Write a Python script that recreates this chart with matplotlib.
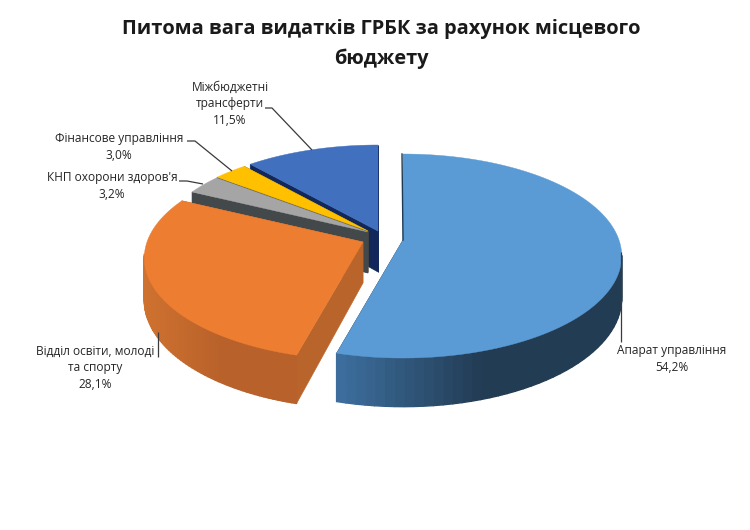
import numpy as np
import matplotlib
matplotlib.use("Agg")
import matplotlib.pyplot as plt
from matplotlib.colors import to_rgb

title_lines = ["Питома вага видатків ГРБК за рахунок місцевого", "бюджету"]
categories = ["Апарат управління", "Відділ освіти, молоді\nта спорту", "КНП охорони здоров'я",
              "Фінансове управління", "Міжбюджетні\nтрансферти"]
shares = [54.2, 28.1, 3.2, 3.0, 11.5]

top_colors = ["#5b9bd5", "#ed7d31", "#a5a5a5", "#ffc000", "#4170bf"]
wall_left = ["#3d6f9f", "#cf7230", "#55585a", "#7a5f10", "#1d3a78"]
wall_right = ["#223c54", "#b8612a", "#43484a", "#6b5a1a", "#12285a"]
face_colors = ["#1f3a55", "#b9642a", "#43484a", "#6b5a1a", "#12285a"]
apex_xy = [(403, 240), (363, 242), (368, 232), (368, 231), (378, 231)]
radius = [1.0, 1.0, 0.97, 0.965, 1.0]
draw_order = [4, 3, 2, 1, 0]

RX, RY, PERSP, DEPTH = 216.0, 99.5, 0.157, 41.0

fig = plt.figure(figsize=(7.5, 5.3), dpi=100, facecolor="white")
ax = fig.add_axes([0, 0, 1, 1])
ax.set_xlim(0, 750)
ax.set_ylim(530, 0)
ax.axis("off")


def project(theta, r, apex, drop=0.0):
    """theta in degrees clockwise from the top of the pie."""
    t = np.radians(theta)
    u, v = r * np.sin(t), -r * np.cos(t)
    w = 1 - PERSP * v
    return apex[0] + RX * u / w, apex[1] + (RY * v + drop) / w


edges = np.concatenate([[0], np.cumsum(shares)]) / sum(shares) * 360

for i in draw_order:
    a0, a1 = edges[i], edges[i + 1]
    apex = apex_xy[i]
    r = radius[i]
    th = np.linspace(a0, a1, 90)
    xt, yt = project(th, r, apex)
    xb, yb = project(th, r, apex, DEPTH)
    ax0, ay0 = project(0, 0, apex)
    ax1, ay1 = project(0, 0, apex, DEPTH)
    # radial faces: the one turned away from the viewer is skipped
    for k in (0, -1):
        if i == 0 and k == 0:
            continue
        ax.fill([ax0, xt[k], xb[k], ax1], [ay0, yt[k], yb[k], ay1],
                color=face_colors[i], lw=0.4, zorder=1)
    # outer wall, shaded in strips, front half only
    xmin, xmax = xt.min(), xt.max()
    c0, c1 = np.array(to_rgb(wall_left[i])), np.array(to_rgb(wall_right[i]))
    for j in range(len(th) - 1):
        if -np.cos(np.radians(th[j])) < 0.12:
            continue
        f = np.clip((0.5 * (xt[j] + xt[j + 1]) - xmin) / max(xmax - xmin, 1) / 0.5, 0, 1)
        col = c0 + (c1 - c0) * f
        ax.fill([xt[j], xt[j + 1], xb[j + 1], xb[j]], [yt[j], yt[j + 1], yb[j + 1], yb[j]],
                color=col, lw=1.0, zorder=1)
    # top surface
    ax.fill(np.r_[ax0, xt], np.r_[ay0, yt], color=top_colors[i], lw=0.3, zorder=1)
    if i == 0:
        ax.plot([xt[0] - 1, ax0], [yt[0], ay0], color=face_colors[i], lw=1.0, zorder=1)

FONT = "Open Sans"
LABEL = 8.6
TXT = "#262626"
LINE = "#3a3a3a"

label_xy = [(672, 359), (95, 368), (112, 186), (119, 147), (230, 104)]
leaders = [
    ([621, 621], [252, 342]),
    ([158, 158], [332, 357]),
    ([179, 187, 203], [181, 181, 184]),
    ([187, 195, 232], [141, 141, 171]),
    ([265, 272, 312], [108, 108, 150]),
]
for name, val, (x, y), (lx, ly) in zip(categories, shares, label_xy, leaders):
    ax.plot(lx, ly, color=LINE, lw=0.9, zorder=3, solid_capstyle="butt")
    pct = f"{val:.1f}%".replace(".", ",")
    ax.text(x, y, name + "\n" + pct, ha="center", va="center", fontsize=LABEL,
            family=FONT, color=TXT, linespacing=1.33, zorder=4)

ax.text(381, 29, title_lines[0], ha="center", va="center", fontsize=14.4, fontweight="bold",
        family=FONT, color="#1a1a1a")
ax.text(381, 59, title_lines[1], ha="center", va="center", fontsize=14.4, fontweight="bold",
        family=FONT, color="#1a1a1a")

fig.savefig("out.png", dpi=100, facecolor="white")
